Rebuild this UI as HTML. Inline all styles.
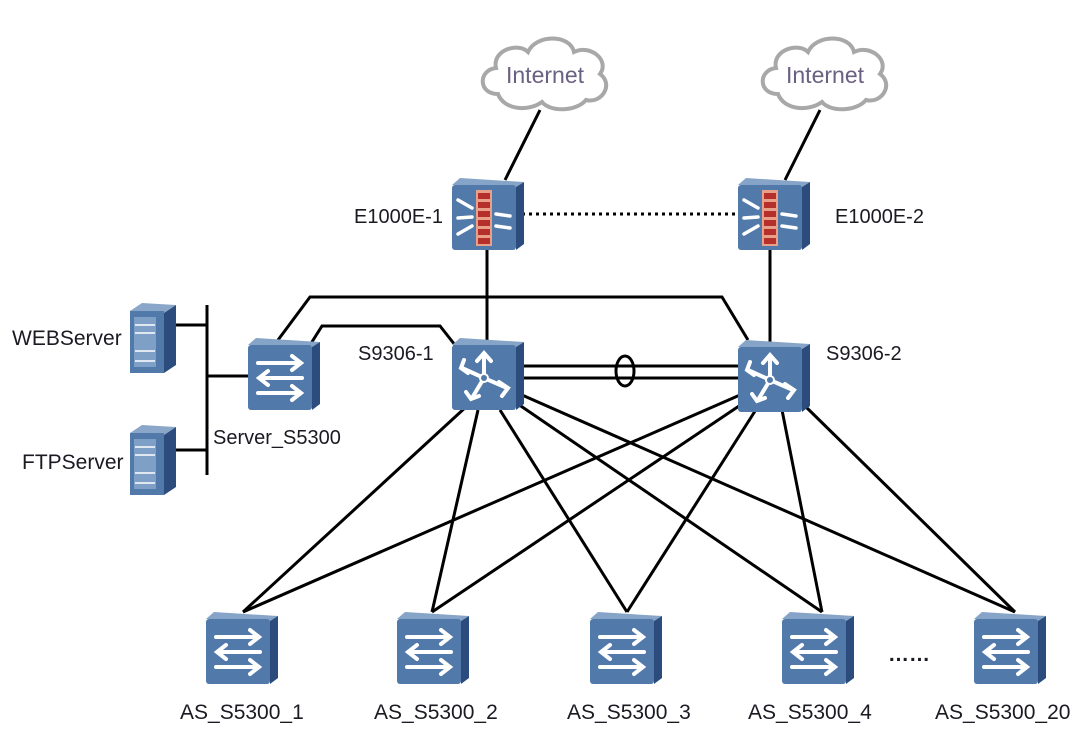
<!DOCTYPE html>
<html><head><meta charset="utf-8"><style>
html,body{margin:0;padding:0;background:#fff}
svg{display:block}
text{font-family:"Liberation Sans",Arial,sans-serif;fill:#1a1a22}
</style></head><body>
<svg width="1084" height="734" viewBox="0 0 1084 734" xmlns="http://www.w3.org/2000/svg">
<defs>
<g id="box">
<polygon points="0,7 8,0 72,4 64,9" fill="#86a4c8"/>
<polygon points="64,9 72,4 72,66 64,72" fill="#2b4c7c"/>
<rect x="0" y="7" width="64" height="65" rx="3" fill="#5179aa"/>
</g>
<g id="sw">
<use href="#box"/>
<g stroke="#fff" stroke-width="4" fill="none" stroke-linecap="round">
<line x1="10" y1="25" x2="52" y2="25"/><polyline points="44,18 53,25 44,32"/>
<line x1="12" y1="40" x2="54" y2="40"/><polyline points="20,33 11,40 20,47"/>
<line x1="10" y1="55" x2="52" y2="55"/><polyline points="44,48 53,55 44,62"/>
</g>
</g>
<g id="rt">
<use href="#box"/>
<g stroke="#fff" stroke-width="4" fill="none" stroke-linecap="round">
<line x1="32" y1="40" x2="32" y2="16"/><polyline points="25,23 32,15 39,23"/>
<line x1="32" y1="40" x2="10" y2="30"/><polyline points="12,22 9,30 16,35"/>
<line x1="32" y1="40" x2="20" y2="60"/><polyline points="14,54 19,61 27,58"/>
<line x1="32" y1="40" x2="55" y2="50"/><polyline points="47,44 56,50 50,58"/>
</g>
<circle cx="32" cy="40" r="4" fill="#5179aa" stroke="#fff" stroke-width="2"/>
</g>
<g id="fw">
<use href="#box"/>
<rect x="24" y="12" width="16" height="56" fill="#e8a08a"/>
<g fill="#b5302a">
<rect x="26" y="15" width="12" height="6"/><rect x="26" y="24" width="12" height="6"/><rect x="26" y="33" width="12" height="6"/><rect x="26" y="42" width="12" height="6"/><rect x="26" y="51" width="12" height="6"/><rect x="26" y="60" width="12" height="6"/>
</g>
<g stroke="#fff" stroke-width="3.5" stroke-linecap="round">
<line x1="6" y1="22" x2="20" y2="30"/><line x1="6" y1="40" x2="20" y2="39"/><line x1="6" y1="56" x2="20" y2="48"/>
<line x1="44" y1="36" x2="58" y2="38"/><line x1="44" y1="48" x2="58" y2="50"/>
</g>
</g>
<g id="srv">
<polygon points="0,8 12,0 46,2 34,10" fill="#8aa6c8"/>
<polygon points="34,10 46,2 46,62 34,70" fill="#2b4c7c"/>
<rect x="0" y="8" width="34" height="62" fill="#5179aa"/>
<rect x="4" y="14" width="22" height="50" fill="#7fa0c6"/>
<g stroke="#dfe8f2" stroke-width="2"><line x1="5" y1="22" x2="25" y2="22"/><line x1="5" y1="30" x2="25" y2="30"/><line x1="5" y1="48" x2="25" y2="48"/><line x1="5" y1="58" x2="25" y2="58"/></g>
</g>
<g id="cloud">
<path d="M20,62 C0,62 0,38 18,36 C14,18 40,10 50,20 C58,2 92,2 96,20 C112,12 132,28 122,42 C136,52 124,72 108,68 C98,80 72,80 64,70 C50,80 26,78 20,62 Z" fill="#fff" stroke="#a8a8a8" stroke-width="4"/>
</g>
</defs>

<use href="#cloud" x="478" y="32"/>
<use href="#cloud" x="758" y="32"/>
<text x="545" y="83" font-size="23" text-anchor="middle" style="fill:#6a6080">Internet</text>
<text x="825" y="83" font-size="23" text-anchor="middle" style="fill:#6a6080">Internet</text>

<g stroke="#000" stroke-width="3" fill="none">
<line x1="540" y1="110" x2="505" y2="180"/>
<line x1="820" y1="110" x2="785" y2="180"/>
<line x1="487" y1="250" x2="487" y2="342"/>
<line x1="770" y1="250" x2="770" y2="342"/>
<line x1="522" y1="214" x2="738" y2="214" stroke-dasharray="3,4"/>
<polyline points="278,340 310,297 722,297 748,340"/>
<polyline points="310,345 322,326 440,326 455,345"/>
<line x1="522" y1="366" x2="740" y2="366"/>
<line x1="522" y1="378" x2="740" y2="378"/>
<ellipse cx="625" cy="371" rx="9" ry="15"/>
<line x1="207" y1="305" x2="207" y2="475"/>
<line x1="175" y1="325" x2="207" y2="325"/>
<line x1="175" y1="450" x2="207" y2="450"/>
<line x1="207" y1="376" x2="250" y2="376"/>
<line x1="467" y1="406" x2="243" y2="612"/>
<line x1="478" y1="410" x2="432" y2="612"/>
<line x1="500" y1="410" x2="627" y2="612"/>
<line x1="515" y1="402" x2="822" y2="612"/>
<line x1="522" y1="395" x2="1015" y2="612"/>
<line x1="740" y1="395" x2="243" y2="612"/>
<line x1="745" y1="402" x2="432" y2="612"/>
<line x1="757" y1="408" x2="627" y2="612"/>
<line x1="782" y1="410" x2="822" y2="612"/>
<line x1="805" y1="406" x2="1015" y2="612"/>
</g>

<use href="#fw" x="452" y="178"/>
<use href="#fw" x="738" y="178"/>
<use href="#rt" x="452" y="338"/>
<use href="#rt" x="738" y="340"/>
<use href="#sw" x="248" y="338"/>
<use href="#srv" x="130" y="303"/>
<use href="#srv" x="130" y="425"/>
<use href="#sw" x="206" y="612"/>
<use href="#sw" x="397" y="612"/>
<use href="#sw" x="590" y="612"/>
<use href="#sw" x="782" y="612"/>
<use href="#sw" x="974" y="612"/>

<g font-size="20">
<text x="354" y="223">E1000E-1</text>
<text x="835" y="223">E1000E-2</text>
<text x="358" y="360">S9306-1</text>
<text x="826" y="360">S9306-2</text>
<text x="213" y="444">Server_S5300</text>
</g>
<g font-size="21">
<text x="12" y="345">WEBServer</text>
<text x="22" y="469">FTPServer</text>
<text x="180" y="719">AS_S5300_1</text>
<text x="374" y="719">AS_S5300_2</text>
<text x="567" y="719">AS_S5300_3</text>
<text x="748" y="719">AS_S5300_4</text>
<text x="935" y="719">AS_S5300_20</text>
<text x="888" y="661" font-weight="bold">……</text>
</g>
</svg>
</body></html>
